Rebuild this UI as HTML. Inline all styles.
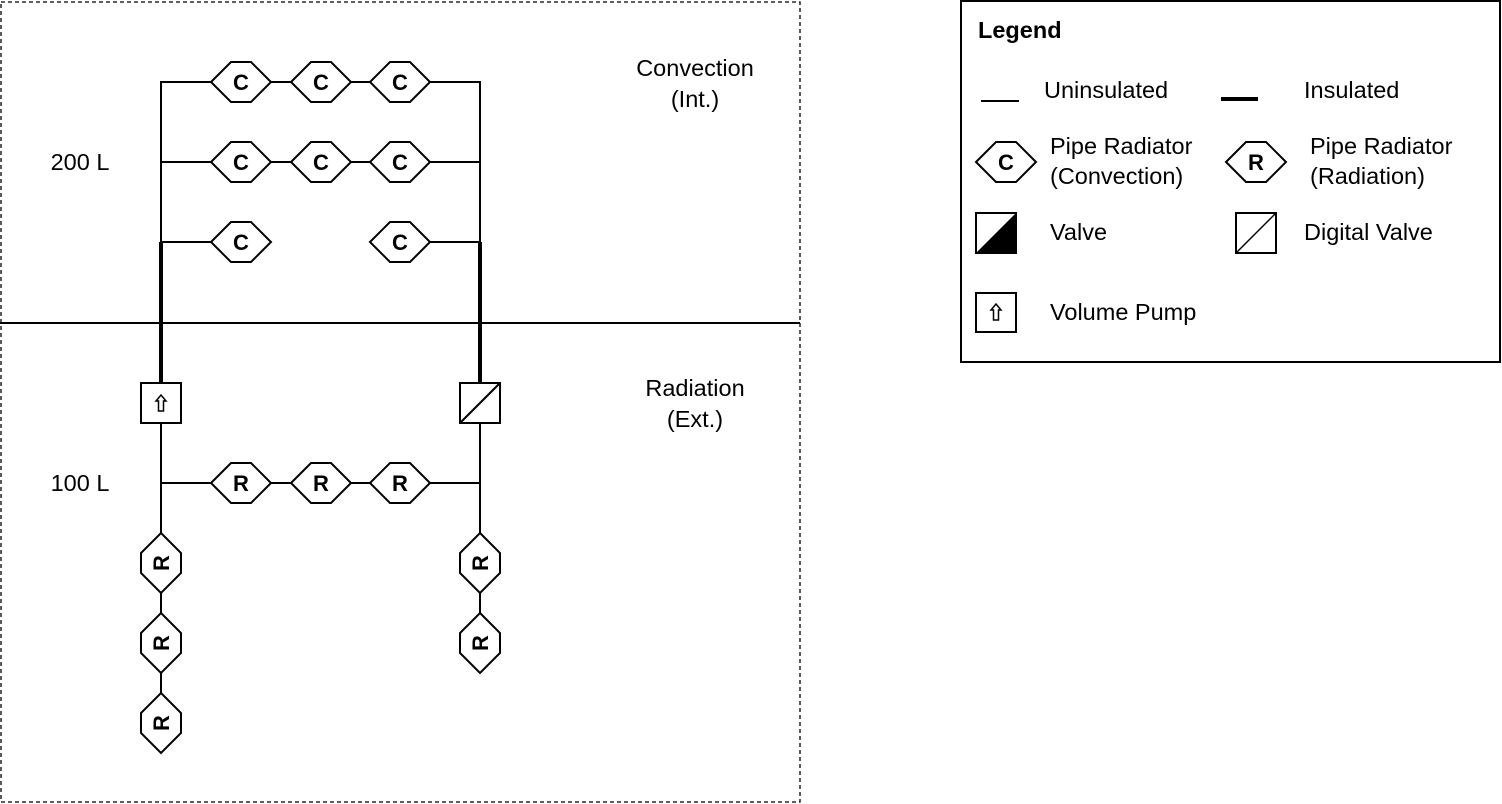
<!DOCTYPE html>
<html><head><meta charset="utf-8"><style>
html,body{margin:0;padding:0;background:#fff;}
svg{display:block;}
text{font-family:"Liberation Sans",Arial,sans-serif;font-size:23.5px;fill:#000;}
.b{font-weight:bold;font-size:22px;}
.lg{font-weight:bold;font-size:23.5px;}
</style></head><body>
<svg width="1502" height="804" viewBox="0 0 1502 804" xmlns="http://www.w3.org/2000/svg">
<defs>
<polygon id="hh" points="-30,0 -10,-20 10,-20 30,0 10,20 -10,20" fill="#fff" stroke="#000" stroke-width="2"/>
<polygon id="hv" points="0,-30 20,-10 20,10 0,30 -20,10 -20,-10" fill="#fff" stroke="#000" stroke-width="2"/>
</defs>
<rect x="1" y="2" width="799" height="800" fill="none" stroke="#000" stroke-width="1.3" stroke-dasharray="4,3"/>
<line x1="0" y1="323" x2="800" y2="323" stroke="#000" stroke-width="2"/>
<g stroke="#000" stroke-width="2" fill="none">
<polyline points="211,82 161,82 161,242 211,242"/>
<polyline points="430,82 480,82 480,242 430,242"/>
<line x1="161" y1="162" x2="480" y2="162"/>
<line x1="161" y1="82" x2="480" y2="82"/>
<line x1="161" y1="483" x2="480" y2="483"/>
<line x1="161" y1="423" x2="161" y2="723"/>
<line x1="480" y1="423" x2="480" y2="643"/>
</g>
<g stroke="#000" stroke-width="4">
<line x1="161" y1="242" x2="161" y2="383"/>
<line x1="480" y1="242" x2="480" y2="383"/>
</g>
<g>
<use href="#hh" x="241" y="82"/><use href="#hh" x="321" y="82"/><use href="#hh" x="400" y="82"/>
<use href="#hh" x="241" y="162"/><use href="#hh" x="321" y="162"/><use href="#hh" x="400" y="162"/>
<use href="#hh" x="241" y="242"/><use href="#hh" x="400" y="242"/>
<use href="#hh" x="241" y="483"/><use href="#hh" x="321" y="483"/><use href="#hh" x="400" y="483"/>
<use href="#hv" x="161" y="563"/><use href="#hv" x="161" y="643"/><use href="#hv" x="161" y="723"/>
<use href="#hv" x="480" y="563"/><use href="#hv" x="480" y="643"/>
</g>
<g text-anchor="middle">
<text x="241" y="90" class="b">C</text><text x="321" y="90" class="b">C</text><text x="400" y="90" class="b">C</text>
<text x="241" y="170" class="b">C</text><text x="321" y="170" class="b">C</text><text x="400" y="170" class="b">C</text>
<text x="241" y="250" class="b">C</text><text x="400" y="250" class="b">C</text>
<text x="241" y="491" class="b">R</text><text x="321" y="491" class="b">R</text><text x="400" y="491" class="b">R</text>
<text class="b" transform="translate(169,563) rotate(-90)">R</text>
<text class="b" transform="translate(169,643) rotate(-90)">R</text>
<text class="b" transform="translate(169,723) rotate(-90)">R</text>
<text class="b" transform="translate(488,563) rotate(-90)">R</text>
<text class="b" transform="translate(488,643) rotate(-90)">R</text>
</g>
<rect x="141" y="383" width="40" height="40" fill="#fff" stroke="#000" stroke-width="2"/>
<polygon points="161,395 166,401 163.5,401 163.5,411 158.5,411 158.5,401 156,401" fill="#fff" stroke="#000" stroke-width="1.5"/>
<rect x="460" y="383" width="40" height="40" fill="#fff" stroke="#000" stroke-width="2"/>
<line x1="460" y1="423" x2="500" y2="383" stroke="#000" stroke-width="2"/>
<text x="80" y="170" text-anchor="middle">200 L</text>
<text x="80" y="491" text-anchor="middle">100 L</text>
<text x="695" y="76" text-anchor="middle">Convection</text>
<text x="695" y="107" text-anchor="middle">(Int.)</text>
<text x="695" y="396" text-anchor="middle">Radiation</text>
<text x="695" y="427" text-anchor="middle">(Ext.)</text>
<rect x="961" y="1" width="539" height="361" fill="#fff" stroke="#000" stroke-width="2"/>
<text x="978" y="38" class="lg">Legend</text>
<line x1="981" y1="101" x2="1019" y2="101" stroke="#000" stroke-width="2"/>
<text x="1044" y="98">Uninsulated</text>
<line x1="1221" y1="99" x2="1258" y2="99" stroke="#000" stroke-width="4"/>
<text x="1304" y="98">Insulated</text>
<use href="#hh" x="1006" y="162"/><text x="1006" y="170" class="b" text-anchor="middle">C</text>
<text x="1050" y="154">Pipe Radiator</text><text x="1050" y="184">(Convection)</text>
<use href="#hh" x="1256" y="162"/><text x="1256" y="170" class="b" text-anchor="middle">R</text>
<text x="1310" y="154">Pipe Radiator</text><text x="1310" y="184">(Radiation)</text>
<rect x="976" y="213" width="40" height="40" fill="#fff" stroke="#000" stroke-width="2"/>
<polygon points="976,253 1016,213 1016,253" fill="#000"/>
<text x="1050" y="240">Valve</text>
<rect x="1236" y="213" width="40" height="40" fill="#fff" stroke="#000" stroke-width="2"/>
<line x1="1236" y1="253" x2="1276" y2="213" stroke="#000" stroke-width="1.5"/>
<text x="1304" y="240">Digital Valve</text>
<rect x="976" y="293" width="40" height="39" fill="#fff" stroke="#000" stroke-width="2"/>
<polygon points="996,304 1001,310 998.5,310 998.5,320 993.5,320 993.5,310 991,310" fill="#fff" stroke="#000" stroke-width="1.5"/>
<text x="1050" y="320">Volume Pump</text>
</svg>
</body></html>
